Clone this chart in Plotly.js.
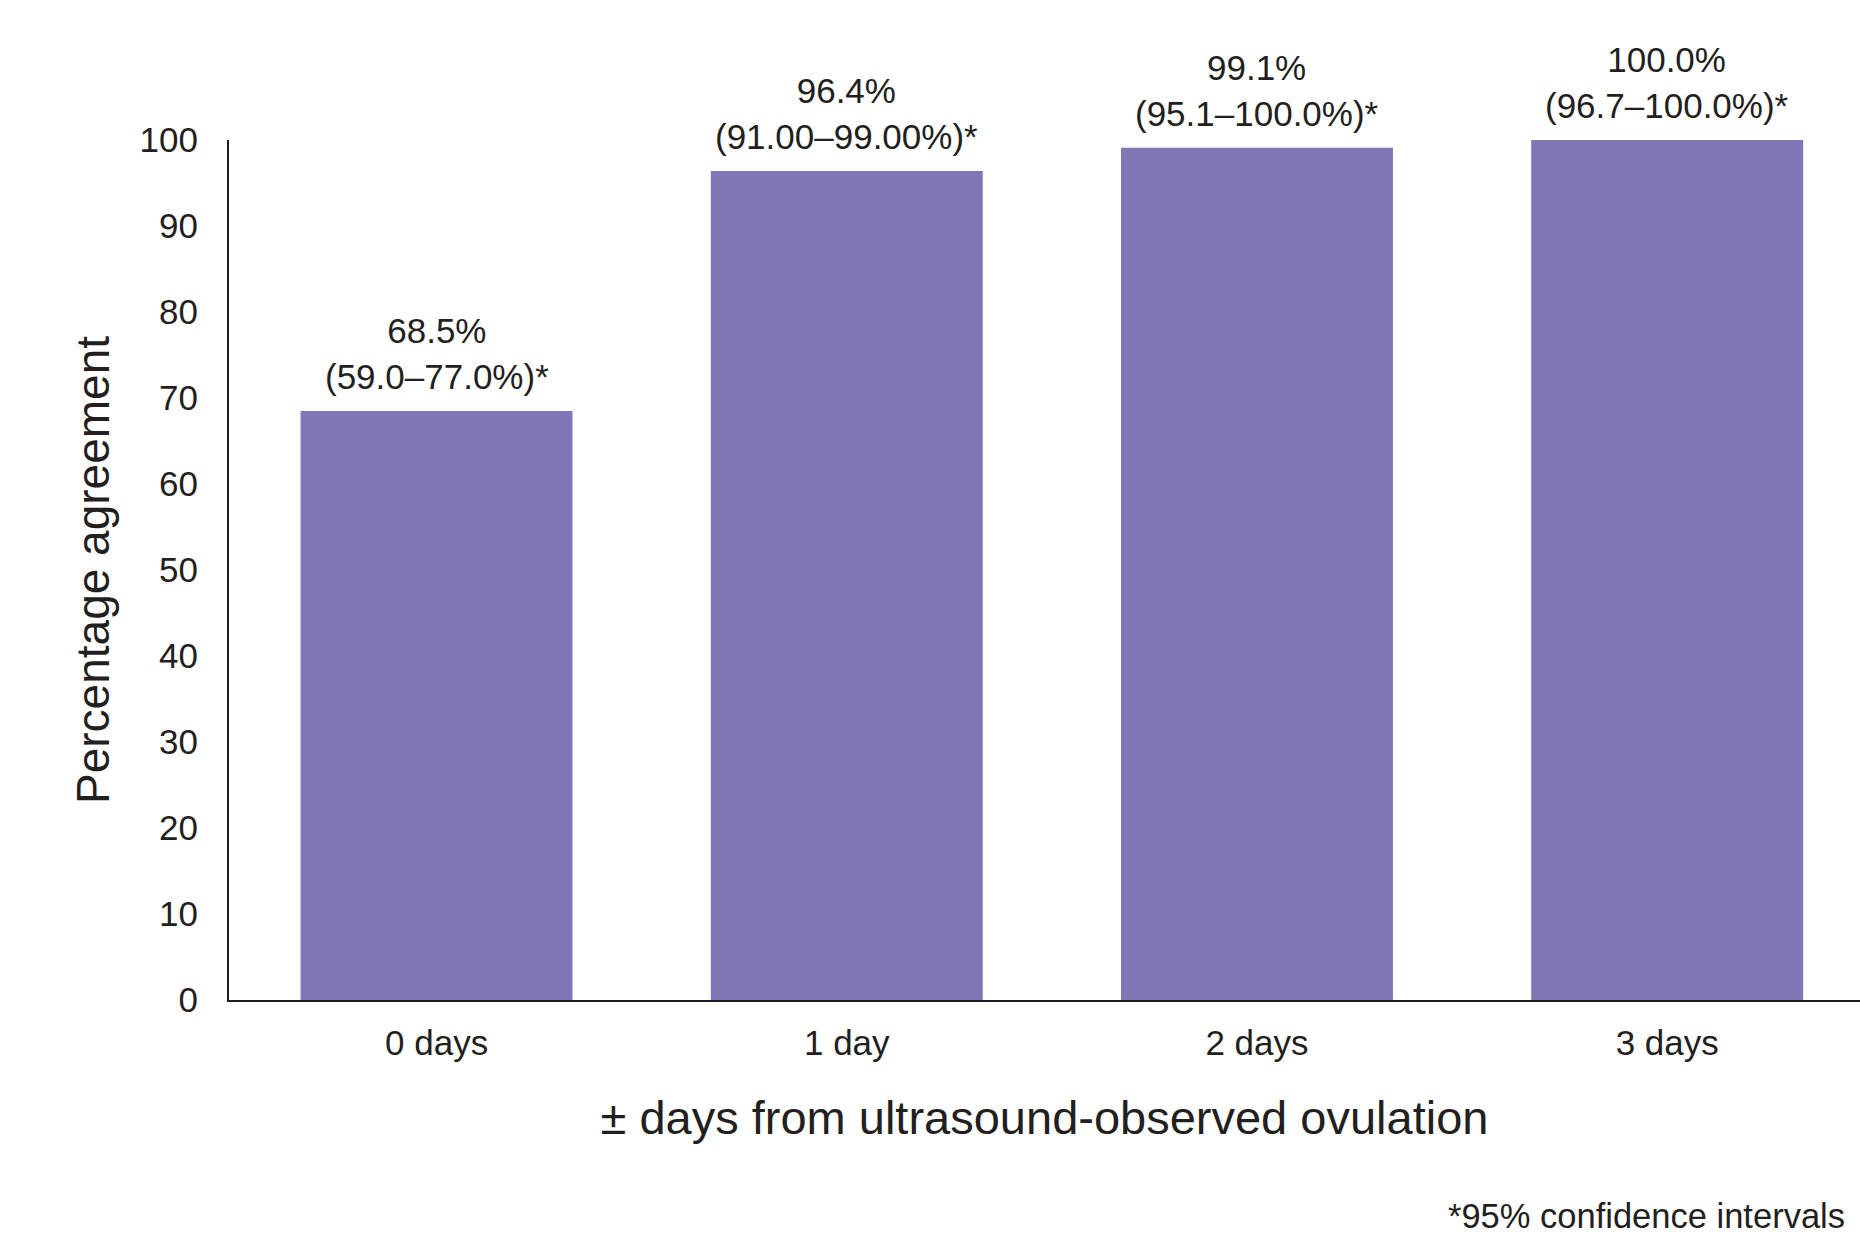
<!DOCTYPE html>
<html>
<head>
<meta charset="utf-8">
<script src="https://cdn.plot.ly/plotly-3.0.1.min.js"></script>
<style>html,body{margin:0;padding:0;background:#fff;}#chart{width:1860px;height:1234px;}</style>
</head>
<body>
<div id="chart"></div>
<script>
const categories = ["0 days", "1 day", "2 days", "3 days"];
const agreement = [68.5, 96.4, 99.1, 100.0];
const pointLabels = ["68.5%", "96.4%", "99.1%", "100.0%"];
const ciLabels = ["(59.0–77.0%)*", "(91.00–99.00%)*", "(95.1–100.0%)*", "(96.7–100.0%)*"];
const yTickValues = [0, 10, 20, 30, 40, 50, 60, 70, 80, 90, 100];
const xTitle = "± days from ultrasound-observed ovulation";
const yTitle = "Percentage agreement";
const footnote = "*95% confidence intervals";

const FONT = "Liberation Sans, Arial, Helvetica, sans-serif";
const INK = "#231f20";
const BAR = "#7f77b6";

const trace = {
  type: "bar",
  x: categories,
  y: agreement,
  marker: { color: BAR, line: { width: 0 } },
  hoverinfo: "skip"
};

const annotations = categories.map((c, i) => ({
  x: c, y: agreement[i], xref: "x", yref: "y",
  text: pointLabels[i] + "<br>" + ciLabels[i],
  showarrow: false, xanchor: "center", yanchor: "bottom", yshift: 13,
  font: { family: FONT, size: 35, color: INK }
}));
annotations.push({
  xref: "paper", yref: "paper", x: 0.746, y: -0.251,
  xanchor: "left", yanchor: "middle", showarrow: false,
  text: footnote, font: { family: FONT, size: 34.5, color: INK }
});

const layout = {
  width: 1860, height: 1234,
  margin: { l: 229, r: 0, t: 140, b: 234, pad: 0 },
  paper_bgcolor: "#fff", plot_bgcolor: "#fff",
  showlegend: false,
  bargap: 0.337,
  font: { family: FONT, color: INK },
  xaxis: {
    type: "category",
    range: [-0.506, 3.47],
    showline: true, linecolor: INK, linewidth: 2,
    showgrid: false, zeroline: false,
    ticks: "outside", ticklen: 11, tickcolor: "rgba(0,0,0,0)",
    tickfont: { family: FONT, size: 35, color: INK },
    title: { text: xTitle, font: { family: FONT, size: 47, color: INK }, standoff: 40 },
    fixedrange: true
  },
  yaxis: {
    range: [0, 100],
    tickmode: "array", tickvals: yTickValues,
    showline: true, linecolor: INK, linewidth: 2,
    showgrid: false, zeroline: false,
    ticks: "outside", ticklen: 22, tickcolor: "rgba(0,0,0,0)",
    tickfont: { family: FONT, size: 35, color: INK },
    title: { text: yTitle, font: { family: FONT, size: 46, color: INK }, standoff: 15 },
    fixedrange: true
  },
  annotations: annotations
};

Plotly.newPlot("chart", [trace], layout, { staticPlot: true, displayModeBar: false });
</script>
</body>
</html>
